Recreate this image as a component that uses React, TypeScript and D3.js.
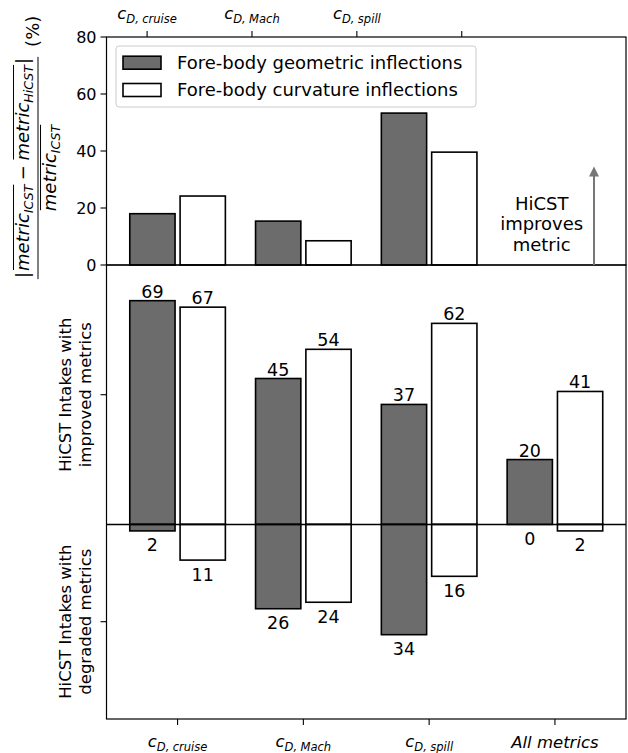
import React from "react";
import * as d3 from "d3";

const W = 628;
const H = 753;

const categories = ["cruise", "Mach", "spill", "All metrics"];
const topTickLabels = ["cruise", "Mach", "spill", ""];
const topGeometric = [18.0, 15.4, 53.3];
const topCurvature = [24.2, 8.5, 39.6];
const improvedGeometric = [69, 45, 37, 20];
const improvedCurvature = [67, 54, 62, 41];
const degradedGeometric = [2, 26, 34, 0];
const degradedCurvature = [11, 24, 16, 2];
const topYTicks = [0, 20, 40, 60, 80];
const bottomYTicks = [40, -30];
const legendLabels = ["Fore-body geometric inflections", "Fore-body curvature inflections"];
const annotationLines = ["HiCST", "improves", "metric"];

const FONT = "DejaVu Sans, Verdana, sans-serif";
const DARK = "#6c6c6c";

let _ctx: CanvasRenderingContext2D | null = null;
function measure(t: string, size: number, it?: boolean) {
  if (!_ctx) {
    const c = document.createElement("canvas");
    _ctx = c.getContext("2d");
  }
  if (!_ctx) return t.length * size * 0.6;
  _ctx.font = `${it ? "italic " : ""}${size}px "DejaVu Sans"`;
  return _ctx.measureText(t).width;
}

type Run = { t?: string; gap?: number; size?: number; it?: boolean; dy?: number; ol?: number };

function layoutRuns(runs: Run[], base: number) {
  let x = 0;
  const out = runs.map((r) => {
    const size = r.size ?? base;
    const w = r.gap !== undefined ? r.gap : measure(r.t || "", size, r.it);
    const o = { ...r, size, x, w };
    x += w;
    return o;
  });
  return { items: out, total: x };
}

function MathText({ runs, x, y, base, anchor = "middle", olOffset = 0 }: { runs: Run[]; x: number; y: number; base: number; anchor?: string; olOffset?: number }) {
  const { items, total } = layoutRuns(runs, base);
  const x0 = anchor === "middle" ? x - total / 2 : anchor === "end" ? x - total : x;
  const groups: Record<number, [number, number]> = {};
  items.forEach((r) => {
    if (r.ol !== undefined) {
      const g = groups[r.ol];
      if (!g) groups[r.ol] = [r.x, r.x + r.w];
      else groups[r.ol] = [Math.min(g[0], r.x), Math.max(g[1], r.x + r.w)];
    }
  });
  return (
    <g>
      {items
        .filter((r) => r.gap === undefined)
        .map((r, i) => (
          <text key={i} x={x0 + r.x} y={y + (r.dy || 0)} fontSize={r.size} fontStyle={r.it ? "italic" : "normal"} fontFamily={FONT} fill="#000">
            {r.t}
          </text>
        ))}
      {Object.keys(groups).map((k) => {
        const g = groups[+k];
        return <line key={"ol" + k} x1={x0 + g[0] + 1} x2={x0 + g[1]} y1={y - olOffset} y2={y - olOffset} stroke="#000" strokeWidth={1} />;
      })}
    </g>
  );
}

function cdRuns(sub: string, S: number): Run[] {
  return [
    { t: "c", it: true, size: S },
    { t: "D,", it: true, size: S * 0.7, dy: S * 0.22 },
    { gap: S * 0.2 },
    { t: sub, it: true, size: S * 0.7, dy: S * 0.22 },
  ];
}

export default function App() {
  const left = 106.5;
  const right = 626;
  const topY0 = 37;
  const midY = 265;
  const botY1 = 719;

  const xB = d3.scaleLinear().domain([-0.565, 3.565]).range([left, right]);
  const xT = d3.scaleLinear().domain([-0.387, 4.566]).range([left, right]);
  const yT = d3.scaleLinear().domain([0, 80]).range([midY, topY0]);
  const yB = d3.scaleLinear().domain([-60, 80]).range([botY1, midY]);

  const bw = 0.36;
  const off = 0.2;
  const bwPx = xB(bw) - xB(0);
  const edge = 1.6;
  const tickLen = 6;

  const S = 16.5;
  const SY = 18;
  const labelSize = 17.5;

  // ylabel top
  const numRuns: Run[] = [
    { t: "|", size: SY },
    { gap: 1 },
    { t: "metric", it: true, ol: 1 },
    { t: "ICST", it: true, size: SY * 0.7, dy: SY * 0.22, ol: 1 },
    { gap: SY * 0.25 },
    { t: "−", size: SY },
    { gap: SY * 0.25 },
    { t: "metric", it: true, ol: 2 },
    { t: "HiCST", it: true, size: SY * 0.7, dy: SY * 0.22, ol: 2 },
    { gap: 1 },
    { t: "|", size: SY },
  ];
  const denRuns: Run[] = [
    { t: "metric", it: true, ol: 1 },
    { t: "ICST", it: true, size: SY * 0.7, dy: SY * 0.22, ol: 1 },
  ];
  const numW = layoutRuns(numRuns, SY).total;
  const fracHalf = numW / 2 + 1;

  const bars: { x: number; y0: number; y1: number; fill: string; scale: (v: number) => number }[] = [];
  topGeometric.forEach((v, i) => bars.push({ x: xB(i - off) - bwPx / 2, y0: 0, y1: v, fill: DARK, scale: yT }));
  topCurvature.forEach((v, i) => bars.push({ x: xB(i + off) - bwPx / 2, y0: 0, y1: v, fill: "#fff", scale: yT }));
  improvedGeometric.forEach((v, i) => bars.push({ x: xB(i - off) - bwPx / 2, y0: 0, y1: v, fill: DARK, scale: yB }));
  improvedCurvature.forEach((v, i) => bars.push({ x: xB(i + off) - bwPx / 2, y0: 0, y1: v, fill: "#fff", scale: yB }));
  degradedGeometric.forEach((v, i) => bars.push({ x: xB(i - off) - bwPx / 2, y0: 0, y1: -v, fill: DARK, scale: yB }));
  degradedCurvature.forEach((v, i) => bars.push({ x: xB(i + off) - bwPx / 2, y0: 0, y1: -v, fill: "#fff", scale: yB }));

  const labels: { x: number; y: number; t: string }[] = [];
  improvedGeometric.forEach((v, i) => labels.push({ x: xB(i - off), y: yB(v) - 3, t: String(v) }));
  improvedCurvature.forEach((v, i) => labels.push({ x: xB(i + off), y: yB(v) - 3, t: String(v) }));
  degradedGeometric.forEach((v, i) => labels.push({ x: xB(i - off), y: yB(-v) + 20.5, t: String(v) }));
  degradedCurvature.forEach((v, i) => labels.push({ x: xB(i + off), y: yB(-v) + 20.5, t: String(v) }));

  const arrowX = 594;

  return (
    <svg width={W} height={H} style={{ position: "absolute", left: 0, top: 0, background: "#fff" }} fontFamily={FONT}>
      <rect x={0} y={0} width={W} height={H} fill="#fff" />
      {/* bars */}
      {bars.map((b, i) => {
        const ya = b.scale(Math.max(b.y0, b.y1));
        const yb = b.scale(Math.min(b.y0, b.y1));
        return <rect key={i} x={b.x} y={ya} width={bwPx} height={yb - ya} fill={b.fill} stroke="#000" strokeWidth={edge} />;
      })}
      {/* zero line bottom */}
      <line x1={left} x2={right} y1={yB(0)} y2={yB(0)} stroke="#000" strokeWidth={1.5} />
      {/* frames */}
      <rect x={left} y={topY0} width={right - left} height={midY - topY0} fill="none" stroke="#000" strokeWidth={1.2} />
      <rect x={left} y={midY} width={right - left} height={botY1 - midY} fill="none" stroke="#000" strokeWidth={1.2} />
      {/* legend */}
      <rect x={116} y={46} width={360} height={61} rx={3} fill="#fff" fillOpacity={0.8} stroke="#cccccc" strokeWidth={1} />
      {legendLabels.map((l, i) => {
        const cy = 62.7 + i * 27.3;
        return (
          <g key={l}>
            <rect x={123} y={cy - 6.5} width={38} height={13} fill={i === 0 ? DARK : "#fff"} stroke="#000" strokeWidth={edge} />
            <text x={177} y={cy} dy="0.36em" fontSize={18}>
              {l}
            </text>
          </g>
        );
      })}
      {/* top y axis ticks */}
      {topYTicks.map((t) => (
        <g key={t}>
          <line x1={left - tickLen} x2={left} y1={yT(t)} y2={yT(t)} stroke="#000" strokeWidth={1.1} />
          <text x={left - tickLen - 4} y={yT(t)} dy="0.36em" textAnchor="end" fontSize={16}>
            {t}
          </text>
        </g>
      ))}
      {/* top x ticks */}
      {topTickLabels.map((l, i) => (
        <g key={"tt" + i}>
          <line x1={xT(i)} x2={xT(i)} y1={topY0} y2={topY0 - tickLen} stroke="#000" strokeWidth={1.1} />
          {l && <MathText runs={cdRuns(l, S)} x={xT(i)} y={19} base={S} />}
        </g>
      ))}
      {/* bottom y ticks */}
      {bottomYTicks.map((t) => (
        <line key={t} x1={left - tickLen} x2={left} y1={yB(t)} y2={yB(t)} stroke="#000" strokeWidth={1.1} />
      ))}
      {/* bottom x ticks */}
      {categories.map((c, i) => (
        <g key={"bt" + i}>
          <line x1={xB(i)} x2={xB(i)} y1={botY1} y2={botY1 + tickLen} stroke="#000" strokeWidth={1.1} />
          {i < 3 ? (
            <MathText runs={cdRuns(c, S)} x={xB(i)} y={747} base={S} />
          ) : (
            <text x={xB(i)} y={748} textAnchor="middle" fontStyle="italic" fontSize={16.5}>
              {c}
            </text>
          )}
        </g>
      ))}
      {/* bar value labels */}
      {labels.map((l, i) => (
        <text key={"l" + i} x={l.x} y={l.y} textAnchor="middle" fontSize={labelSize}>
          {l.t}
        </text>
      ))}
      {/* annotation */}
      <line x1={arrowX} x2={arrowX} y1={midY} y2={176} stroke="#777" strokeWidth={2} />
      <polygon points={`${arrowX},166.5 ${arrowX - 5},176.5 ${arrowX + 5},176.5`} fill="#777" />
      {annotationLines.map((t, i) => (
        <text key={t} x={541.7} y={209.5 + i * 20.5} textAnchor="middle" fontSize={18}>
          {t}
        </text>
      ))}
      {/* top y label */}
      <g transform="translate(38,168) rotate(-90)">
        <MathText runs={numRuns} x={0} y={-9} base={SY} olOffset={SY * 0.86} />
        <line x1={-fracHalf} x2={fracHalf} y1={0} y2={0} stroke="#000" strokeWidth={1} />
        <MathText runs={denRuns} x={0} y={18} base={SY} olOffset={SY * 0.86} />
        <text x={fracHalf + 10} y={1} fontSize={18}>
          (%)
        </text>
      </g>
      {/* bottom y labels */}
      {[
        ["HiCST Intakes with", "improved metrics"],
        ["HiCST Intakes with", "degraded metrics"],
      ].map((lines, k) => (
        <g key={"yl" + k} transform={`translate(0,${yB(bottomYTicks[k])}) rotate(-90)`}>
          {lines.map((t, j) => (
            <text key={j} x={0} y={71 + j * 19.5} textAnchor="middle" fontSize={16.5}>
              {t}
            </text>
          ))}
        </g>
      ))}
    </svg>
  );
}
